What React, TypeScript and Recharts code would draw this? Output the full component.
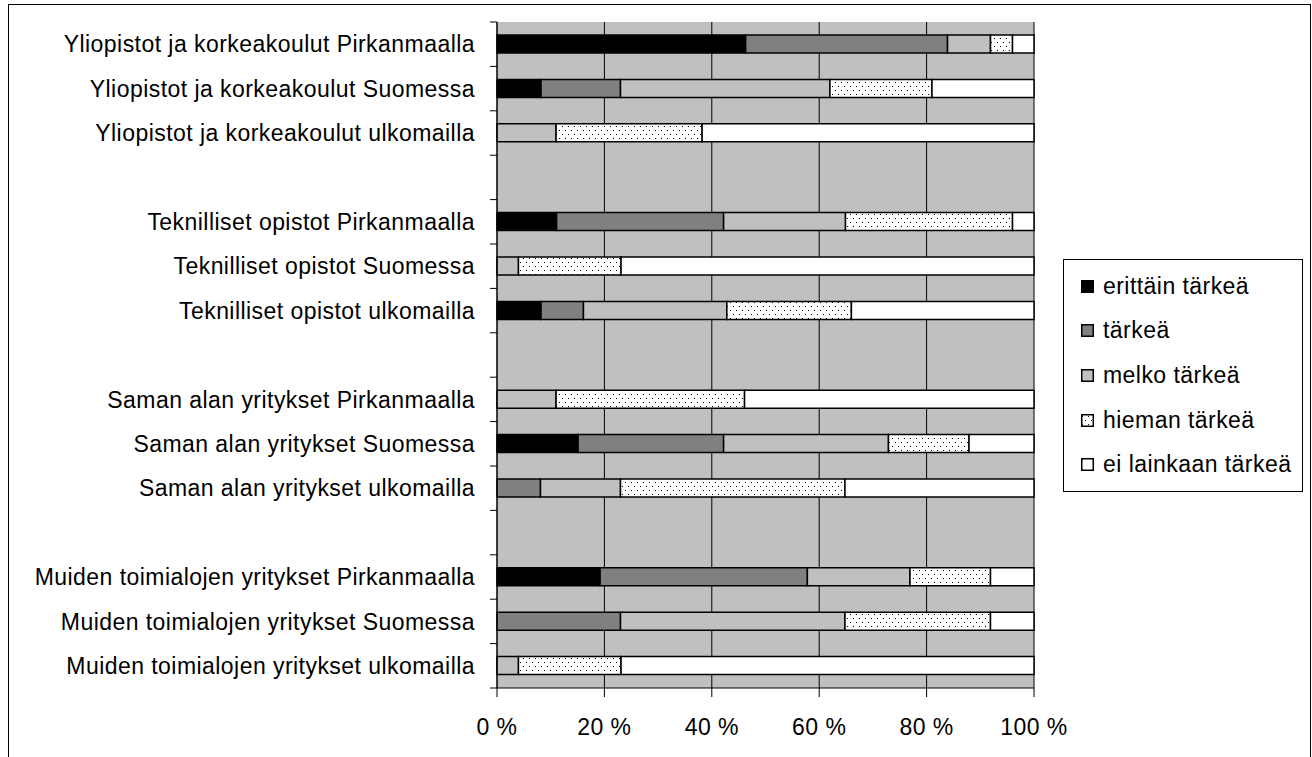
import React from 'react';
import { BarChart, Bar, XAxis, YAxis, CartesianGrid, Legend } from 'recharts';

// rivit ylhäältä alas, tyhjät rivit ovat ryhmien välejä
const categories = [
  'Yliopistot ja korkeakoulut Pirkanmaalla',
  'Yliopistot ja korkeakoulut Suomessa',
  'Yliopistot ja korkeakoulut ulkomailla',
  '',
  'Teknilliset opistot Pirkanmaalla',
  'Teknilliset opistot Suomessa',
  'Teknilliset opistot ulkomailla',
  '',
  'Saman alan yritykset Pirkanmaalla',
  'Saman alan yritykset Suomessa',
  'Saman alan yritykset ulkomailla',
  '',
  'Muiden toimialojen yritykset Pirkanmaalla',
  'Muiden toimialojen yritykset Suomessa',
  'Muiden toimialojen yritykset ulkomailla',
];

const erittainTarkea = [46.3, 8.2, 0, 0, 11.1, 0, 8.2, 0, 0, 15.1, 0, 0, 19.2, 0, 0];
const tarkea = [37.6, 14.8, 0, 0, 31.1, 0, 7.9, 0, 0, 27.1, 8.1, 0, 38.6, 23.0, 0];
const melkoTarkea = [8.0, 39.0, 11.0, 0, 22.7, 4.0, 26.7, 0, 11.0, 30.7, 14.9, 0, 19.1, 41.8, 4.0];
const hiemanTarkea = [4.1, 19.0, 27.2, 0, 31.1, 19.1, 23.2, 0, 35.1, 15.0, 41.8, 0, 15.0, 27.1, 19.1];
const eiLainkaan = [4.0, 19.0, 61.8, 0, 4.0, 76.9, 34.0, 0, 53.9, 12.1, 35.2, 0, 8.1, 8.1, 76.9];

const xTicks = [0, 20, 40, 60, 80, 100];

const series = [
  { key: 'erittain', name: 'erittäin tärkeä', fill: '#000000' },
  { key: 'tarkea', name: 'tärkeä', fill: '#808080' },
  { key: 'melko', name: 'melko tärkeä', fill: '#C0C0C0' },
  { key: 'hieman', name: 'hieman tärkeä', fill: 'url(#dots)' },
  { key: 'ei', name: 'ei lainkaan tärkeä', fill: '#FFFFFF' },
];

const data = categories.map((name, i) => ({
  name,
  erittain: erittainTarkea[i],
  tarkea: tarkea[i],
  melko: melkoTarkea[i],
  hieman: hiemanTarkea[i],
  ei: eiLainkaan[i],
}));

const W = 1312;
const H = 757;
const FONT = '"Liberation Sans", Arial, sans-serif';
const FS = 23;
const LS = 0.45;
const MARGIN = { top: 22, right: 278, bottom: 9, left: 0 };
const X_AXIS_H = 60;
const Y_AXIS_W = 497;
const TICK_SIZE = 7;
const TICK_MARGIN = 15;
const BAND = (H - MARGIN.top - MARGIN.bottom - X_AXIS_H) / categories.length;

const CategoryTick = (props: any) => {
  const { x, y, payload, index } = props;
  const axisX = x + TICK_MARGIN + TICK_SIZE;
  return (
    <g>
      <line x1={axisX - TICK_SIZE} x2={axisX} y1={y - BAND / 2} y2={y - BAND / 2} stroke="#000" />
      {index === categories.length - 1 && (
        <line x1={axisX - TICK_SIZE} x2={axisX} y1={y + BAND / 2} y2={y + BAND / 2} stroke="#000" />
      )}
      <text
        x={x}
        y={y}
        dy="0.36em"
        textAnchor="end"
        fontSize={FS}
        fontFamily={FONT}
        letterSpacing={LS}
        fill="#000"
      >
        {payload.value}
      </text>
    </g>
  );
};

const DotPattern = ({ id }: { id: string }) => (
  <pattern id={id} width={6} height={8} patternUnits="userSpaceOnUse">
    <rect width={6} height={8} fill="#fff" />
    <rect x={1} y={2} width={1} height={1} fill="#000" />
    <rect x={4} y={6} width={1} height={1} fill="#000" />
  </pattern>
);

const renderLegend = () => (
  <div
    style={{
      width: 240,
      boxSizing: 'border-box',
      border: '1px solid #000',
      background: '#fff',
      padding: '4px 0 4px 17px',
      fontFamily: FONT,
      fontSize: FS,
      letterSpacing: LS,
      color: '#000',
    }}
  >
    {series.map((s) => (
      <div key={s.key} style={{ display: 'flex', alignItems: 'center', height: 44.6 }}>
        <svg width={13} height={13} style={{ marginRight: 9, flex: 'none' }}>
          <defs>
            <DotPattern id={'legendDots'} />
          </defs>
          <rect
            x={0.75}
            y={0.75}
            width={11.5}
            height={11.5}
            fill={s.key === 'hieman' ? 'url(#legendDots)' : s.fill}
            stroke="#000"
            strokeWidth={1.5}
          />
        </svg>
        <span style={{ whiteSpace: 'nowrap' }}>{s.name}</span>
      </div>
    ))}
  </div>
);

export default function App() {
  return (
    <>
      <div
        style={{
          position: 'absolute',
          left: 8,
          top: 4,
          width: 1303,
          height: H - 4,
          boxSizing: 'border-box',
          border: '1px solid #000',
          borderBottom: 'none',
          background: '#fff',
        }}
      />
      <div style={{ position: 'absolute', left: 0, top: 0, width: W, height: H }}>
        <BarChart width={W} height={H} data={data} layout="vertical" margin={MARGIN} barSize={18}>
          <defs>
            <DotPattern id="dots" />
          </defs>
          <CartesianGrid horizontal={false} stroke="#000" fill="#C0C0C0" fillOpacity={1} />
          <XAxis
            type="number"
            domain={[0, 100]}
            ticks={xTicks}
            interval={0}
            tickFormatter={(v) => `${v} %`}
            height={X_AXIS_H}
            tickSize={9}
            tickMargin={22}
            axisLine={{ stroke: '#000' }}
            tickLine={{ stroke: '#000' }}
            tick={{ fill: '#000', fontSize: FS, fontFamily: FONT, letterSpacing: LS }}
          />
          <YAxis
            type="category"
            dataKey="name"
            width={Y_AXIS_W}
            interval={0}
            tickLine={false}
            tickSize={TICK_SIZE}
            tickMargin={TICK_MARGIN}
            axisLine={{ stroke: '#000' }}
            tick={<CategoryTick />}
          />
          {series.map((s) => (
            <Bar
              key={s.key}
              dataKey={s.key}
              name={s.name}
              stackId="a"
              fill={s.fill}
              stroke="#000"
              strokeWidth={1.5}
              isAnimationActive={false}
            />
          ))}
          <Legend
            layout="horizontal"
            verticalAlign="middle"
            align="center"
            content={renderLegend}
            wrapperStyle={{ left: 1063, top: 259, width: 240, height: 'auto' }}
          />
        </BarChart>
      </div>
    </>
  );
}
